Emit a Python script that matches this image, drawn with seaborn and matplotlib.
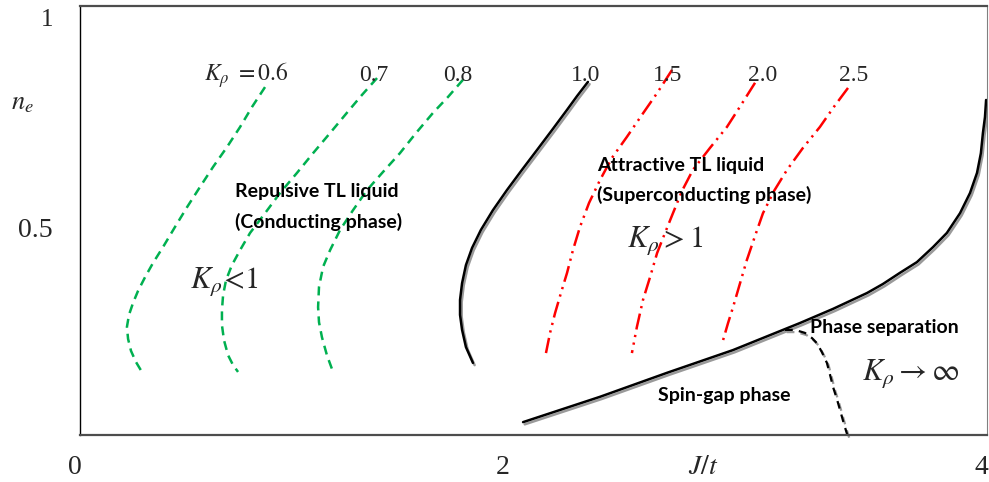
import matplotlib
matplotlib.use("Agg")
import matplotlib.pyplot as plt
import matplotlib.patheffects as pe
import seaborn as sns
import pandas as pd

# ---- data (J/t on x in 0..4, n_e on y in 0..1) ----
k06_x = [0.816, 0.759, 0.706, 0.648, 0.587, 0.529, 0.472, 0.419, 0.366, 0.322,
         0.287, 0.256, 0.234, 0.216, 0.207, 0.212, 0.225, 0.247, 0.273]
k06_y = [0.811, 0.765, 0.718, 0.671, 0.625, 0.578, 0.531, 0.485, 0.438, 0.401,
         0.368, 0.336, 0.308, 0.280, 0.252, 0.224, 0.196, 0.170, 0.147]
k07_x = [1.310, 1.244, 1.177, 1.103, 1.028, 0.957, 0.882, 0.816, 0.750, 0.706,
         0.670, 0.644, 0.631, 0.626, 0.626, 0.635, 0.653, 0.675, 0.697]
k07_y = [0.832, 0.793, 0.751, 0.704, 0.657, 0.611, 0.564, 0.517, 0.471, 0.431,
         0.396, 0.361, 0.326, 0.291, 0.256, 0.221, 0.186, 0.163, 0.147]
k08_x = [1.689, 1.623, 1.557, 1.482, 1.411, 1.336, 1.266, 1.204, 1.147, 1.103,
         1.072, 1.054, 1.050, 1.054, 1.067, 1.089, 1.116]
k08_y = [0.828, 0.788, 0.751, 0.704, 0.657, 0.613, 0.571, 0.524, 0.478, 0.431,
         0.392, 0.345, 0.298, 0.263, 0.228, 0.186, 0.147]
k10_x = [2.240, 2.192, 2.148, 2.082, 2.015, 1.949, 1.883, 1.821, 1.768, 1.729,
         1.702, 1.685, 1.676, 1.676, 1.685, 1.702, 1.733]
k10_y = [0.823, 0.790, 0.758, 0.711, 0.664, 0.618, 0.571, 0.524, 0.478, 0.436,
         0.396, 0.354, 0.315, 0.280, 0.245, 0.205, 0.168]
k15_x = [2.611, 2.545, 2.478, 2.412, 2.346, 2.293, 2.245, 2.205, 2.174, 2.148,
         2.121, 2.095, 2.073, 2.055]
k15_y = [0.851, 0.797, 0.746, 0.695, 0.646, 0.594, 0.541, 0.485, 0.431, 0.378,
         0.331, 0.284, 0.238, 0.191]
k20_x = [2.977, 2.915, 2.853, 2.778, 2.703, 2.655, 2.615, 2.580, 2.545, 2.514,
         2.483, 2.456, 2.434]
k20_y = [0.821, 0.769, 0.718, 0.669, 0.618, 0.569, 0.517, 0.471, 0.424, 0.368,
         0.315, 0.252, 0.191]
k25_x = [3.387, 3.325, 3.263, 3.188, 3.118, 3.061, 3.012, 2.977, 2.941, 2.911,
         2.880, 2.858, 2.836]
k25_y = [0.809, 0.765, 0.718, 0.669, 0.618, 0.569, 0.517, 0.464, 0.408, 0.354,
         0.298, 0.261, 0.221]
sg_x = [1.954, 2.293, 2.589, 2.880, 3.175, 3.321, 3.471, 3.541, 3.616, 3.691,
        3.762, 3.823, 3.881, 3.925, 3.956, 3.973, 3.982, 3.991, 3.996]
sg_y = [0.030, 0.089, 0.145, 0.198, 0.261, 0.294, 0.331, 0.352, 0.378, 0.403,
        0.438, 0.471, 0.517, 0.564, 0.611, 0.657, 0.704, 0.741, 0.781]
ps_x = [3.109, 3.153, 3.197, 3.228, 3.250, 3.272, 3.294, 3.308, 3.321, 3.338,
        3.352, 3.369, 3.387]
ps_y = [0.245, 0.245, 0.238, 0.226, 0.214, 0.193, 0.168, 0.140, 0.112, 0.084,
        0.058, 0.026, -0.005]

k_labels = ["$K_\\rho\\ = 0.6$", "0.7", "0.8", "1.0", "1.5", "2.0", "2.5"]

W, H = 989, 482
L, R, T, B = 80, 987, 6, 435


def px(x, y):
    return ((x - L) / (R - L) * 4, (B - y) / (B - T))


sns.set_style("white")
plt.rcParams["font.family"] = ["Liberation Serif", "DejaVu Serif"]
plt.rcParams["mathtext.fontset"] = "stix"

fig = plt.figure(figsize=(W / 100, H / 100), dpi=100)
ax = fig.add_axes([L / W, (H - B) / H, (R - L) / W, (B - T) / H])
ax.set_xlim(0, 4)
ax.set_ylim(0, 1)

green = "#00B050"
red = "#FF0000"
shadow = [pe.SimpleLineShadow(offset=(1.2, -1.6), shadow_color="#9a9a9a", alpha=1.0), pe.Normal()]


def curve(xs, ys, **kw):
    df = pd.DataFrame({"x": xs, "y": ys})
    sns.lineplot(data=df, x="x", y="y", sort=False, estimator=None, ax=ax, **kw)


for xs, ys in [(k06_x, k06_y), (k07_x, k07_y), (k08_x, k08_y)]:
    curve(xs, ys, color=green, lw=1.8, linestyle=(0, (3.6, 2.4)))
for xs, ys in [(k15_x, k15_y), (k20_x, k20_y), (k25_x, k25_y)]:
    curve(xs, ys, color=red, lw=1.8, linestyle=(0, (6.5, 2.2, 0.9, 2.2, 0.9, 2.2)))
curve(k10_x, k10_y, color="black", lw=1.8, path_effects=shadow)
curve(sg_x, sg_y, color="black", lw=1.8, path_effects=shadow)
ax.plot(ps_x, ps_y, color="black", lw=1.6, linestyle=(0, (3.5, 2.8)), clip_on=False,
        path_effects=shadow)

ax.set_xlabel("")
ax.set_ylabel("")
ax.set_xticks([])
ax.set_yticks([])
for s in ["top", "bottom"]:
    ax.spines[s].set_color("#4d4d4d")
    ax.spines[s].set_linewidth(1.6)
ax.spines["left"].set_color("black")
ax.spines["left"].set_linewidth(1.0)
ax.spines["right"].set_color("#808080")
ax.spines["right"].set_linewidth(0.8)

# K labels
fs_num = 17
lab_pos = [(246, 75), (374, 75), (458, 75), (586, 75), (668, 75), (763, 75), (854, 75)]
for t, (x, y) in zip(k_labels, lab_pos):
    ax.text(*px(x, y), t, fontsize=fs_num, ha="center", va="center", clip_on=False)

# region texts
bold = dict(family=["Lato", "DejaVu Sans"], fontweight="bold", fontsize=14, color="black")
ax.text(*px(235, 192), "Repulsive TL liquid", ha="left", va="center", **bold)
ax.text(*px(235, 222), "(Conducting phase)", ha="left", va="center", **bold)
ax.text(*px(597, 165), "Attractive TL liquid", ha="left", va="center", **bold)
ax.text(*px(597, 195), "(Superconducting phase)", ha="left", va="center", **bold)
ax.text(*px(810, 328), "Phase separation", ha="left", va="center", **bold)
ax.text(*px(658, 395), "Spin-gap phase", ha="left", va="center", **bold)

ax.text(*px(190, 282), "$K_\\rho\\!<\\!1$", fontsize=22, ha="left", va="center")
ax.text(*px(627, 240), "$K_\\rho > 1$", fontsize=22, ha="left", va="center")
ax.text(*px(862, 373), "$K_\\rho \\rightarrow \\infty$", fontsize=22, ha="left", va="center")

# axis labels and tick labels
ax.text(*px(75, 467), "0", fontsize=20, ha="center", va="center", clip_on=False)
ax.text(*px(503, 467), "2", fontsize=20, ha="center", va="center", clip_on=False)
ax.text(*px(988, 467), "4", fontsize=20, ha="right", va="center", clip_on=False)
ax.text(*px(47, 20), "1", fontsize=18, ha="center", va="center", clip_on=False)
ax.text(*px(35, 230), "0.5", fontsize=20, ha="center", va="center", clip_on=False)
ax.text(*px(703, 467), "$J/t$", fontsize=20, ha="center", va="center", clip_on=False)
ax.text(*px(22, 104), "$n_e$", fontsize=19, ha="center", va="center", clip_on=False)

fig.savefig("out.png", dpi=100)
